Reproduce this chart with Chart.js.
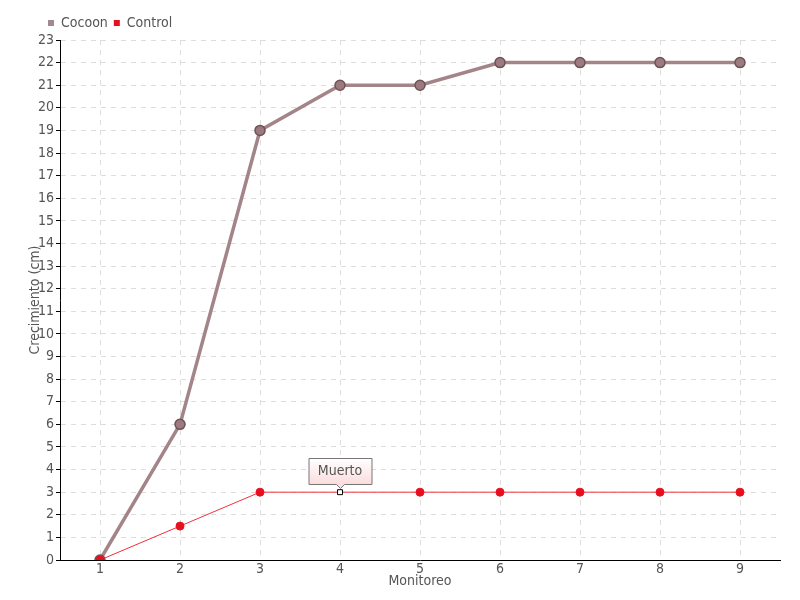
<!DOCTYPE html>
<html><head><meta charset="utf-8">
<script src="https://cdn.jsdelivr.net/npm/chart.js@4/dist/chart.umd.min.js"></script>
<style>html,body{margin:0;padding:0;background:#fff}#wrap{width:800px;height:600px}</style>
</head><body><div id="wrap"><canvas id="c" width="800" height="600"></canvas></div>
<script>
const categories = ['1','2','3','4','5','6','7','8','9'];
const cocoon = [0, 6, 19, 21, 21, 22, 22, 22, 22];
const control = [0, 1.5, 3, 3, 3, 3, 3, 3, 3];
const yTicks = {min: 0, max: 23, step: 1};
const noteIndex = 3;
const noteText = 'Muerto';

const FONT = "'DejaVu Sans','DejaVu Sans Condensed',sans-serif";
const W = 'condensed';
Chart.defaults.font.family = FONT;
Chart.defaults.font.weight = W;
Chart.defaults.color = '#555';

const noteStyles = control.map((v,i)=> i===noteIndex ? 'rect' : 'circle');
const noteBg = control.map((v,i)=> i===noteIndex ? '#ffffff' : '#e8101e');
const noteBorder = control.map((v,i)=> i===noteIndex ? '#000000' : '#e8101e');
const noteRadius = control.map((v,i)=> i===noteIndex ? 3.5 : 4);

const notePlugin = {
  id: 'note',
  afterLayout(chart){
    if (chart.legend) { chart.legend.left = 42; }
  },
  afterDatasetsDraw(chart){
    const ctx = chart.ctx;
    const meta = chart.getDatasetMeta(1);
    const pt = meta.data[noteIndex];
    const px = Math.round(pt.x), py = Math.round(pt.y);
    ctx.save();
    ctx.font = W + ' 14px ' + FONT;
    const w = Math.ceil(ctx.measureText(noteText).width) + 18;
    const h = 26;
    const x0 = px - w/2 + 0.5, y0 = py - 34 + 0.5;
    const g = ctx.createLinearGradient(0, y0, 0, y0+h);
    g.addColorStop(0, '#ffffff');
    g.addColorStop(1, '#fcdcdc');
    ctx.beginPath();
    ctx.moveTo(x0, y0);
    ctx.lineTo(x0+w, y0);
    ctx.lineTo(x0+w, y0+h);
    ctx.lineTo(px+4.5, y0+h);
    ctx.lineTo(px+0.5, y0+h+4);
    ctx.lineTo(px-3.5, y0+h);
    ctx.lineTo(x0, y0+h);
    ctx.closePath();
    ctx.fillStyle = g;
    ctx.fill();
    ctx.strokeStyle = '#777';
    ctx.lineWidth = 1;
    ctx.stroke();
    ctx.fillStyle = '#555';
    ctx.textAlign = 'center';
    ctx.textBaseline = 'middle';
    ctx.fillText(noteText, px, y0 + h/2);
    ctx.restore();
  }
};

new Chart(document.getElementById('c'), {
  type: 'line',
  data: {
    labels: categories,
    datasets: [
      {label: 'Cocoon', data: cocoon, order: 1, borderColor: '#a38589', backgroundColor: '#9b7b80',
       pointBorderColor: '#6f5257', pointBorderWidth: 1.5, borderWidth: 3.5, pointRadius: 5, pointStyle: 'circle', tension: 0},
      {label: 'Control', data: control, order: 0, borderColor: '#f0303c', backgroundColor: '#e8101e',
       pointBackgroundColor: noteBg, pointBorderColor: noteBorder, pointStyle: noteStyles,
       pointRadius: noteRadius, pointBorderWidth: 1, borderWidth: 1, tension: 0}
    ]
  },
  options: {
    responsive: false,
    animation: false,
    layout: {padding: {left: 0, right: 20, top: 10, bottom: 0}},
    plugins: {
      legend: {
        position: 'top', align: 'start',
        labels: {usePointStyle: true, pointStyle: 'rect', boxWidth: 6, boxHeight: 6, padding: 6,
          font: {size: 14}, color: '#555',
          generateLabels(chart){
            return chart.data.datasets.map((d,i)=>({text: d.label, fillStyle: i===0?'#a08a8e':'#e8101e', strokeStyle: i===0?'#a08a8e':'#e8101e', lineWidth:0, pointStyle:'rect', datasetIndex:i, fontColor:'#555'}));
          }
        }
      },
      tooltip: {enabled: false}
    },
    scales: {
      x: {
        type: 'category', offset: true,
        grid: {offset: false, color: '#dddddd', drawTicks: false},
        border: {color: '#000', width: 1, dash: [5,5]},
        ticks: {font: {size: 14}, color: '#555', padding: 1, maxRotation: 0},
        title: {display: true, text: 'Monitoreo', font: {size: 14}, color: '#555', padding: {top: 0, bottom: 10}},
        afterFit(s){ s.height = 40; }
      },
      y: {
        min: yTicks.min, max: yTicks.max,
        grid: {color: '#dddddd', tickColor: '#000', tickLength: 4, tickBorderDash: []},
        border: {color: '#000', width: 1, dash: [5,5]},
        ticks: {stepSize: yTicks.step, font: {size: 14}, color: '#555', padding: 2, autoSkip: false},
        title: {display: true, text: 'Crecimiento (cm)', font: {size: 14}, color: '#555', padding: {top: 27, bottom: 0}},
        afterFit(s){ s.width = 60; }
      }
    }
  },
  plugins: [notePlugin]
});
</script></body></html>
